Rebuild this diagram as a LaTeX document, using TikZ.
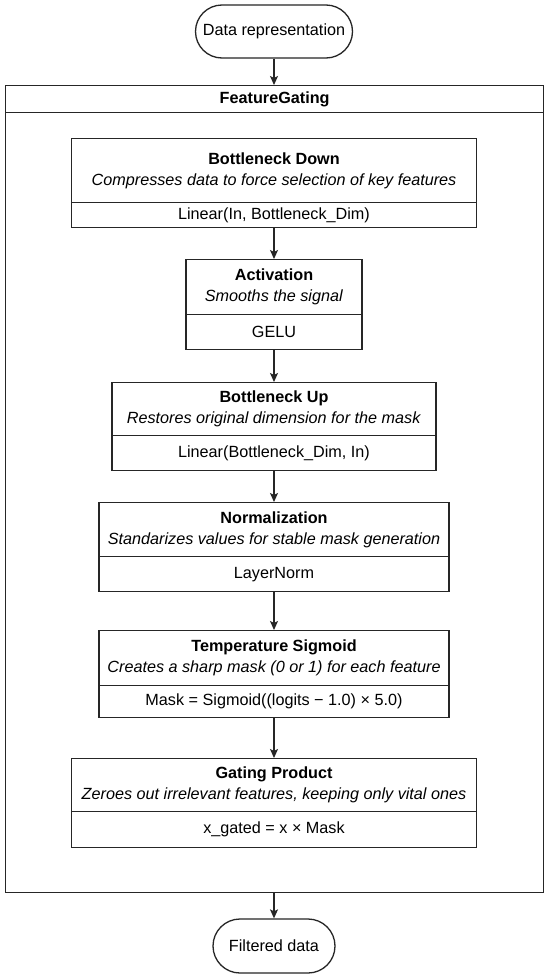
\documentclass[tikz,border=0pt]{standalone}
\usepackage{fontspec}
\setmainfont{Liberation Sans}
\usetikzlibrary{arrows.meta,shapes.misc}
\begin{document}
\begin{tikzpicture}[x=1pt,y=-1pt,
  every node/.style={font=\fontsize{16.2}{21}\selectfont, inner sep=0pt},
  ln/.style={line width=1.3pt, draw=black!85},
  term/.style={ln, rounded rectangle, minimum height=53pt},
  part/.style={ln, rectangle, anchor=north, align=center},
  arr/.style={line width=1.3pt, draw=black!85, -{Stealth[length=9pt,width=8pt,inset=2pt]}}
]
\useasboundingbox[fill=white] (0,0) rectangle (550,980);

% terminals
\node[term, minimum width=157pt] (dr) at (274,31.5) {Data representation};
\node[term, minimum width=122pt, minimum height=54pt] (fd) at (274,946) {Filtered data};

% container
\node[ln, anchor=north west, minimum width=538pt, minimum height=807pt] (fg) at (5,85) {};
\node[ln, anchor=north west, minimum width=538pt, minimum height=27pt] (fgh) at (5,85) {\textbf{FeatureGating}};

% box 1
\node[part, minimum width=405pt, minimum height=64pt] (b1t) at (274,138)
  {\textbf{Bottleneck Down}\\\textit{Compresses data to force selection of key features}};
\node[part, minimum width=405pt, minimum height=25pt] (b1b) at (274,202) {Linear(In, Bottleneck\_Dim)};

% box 2
\node[part, minimum width=176pt, minimum height=55pt] (b2t) at (274,259)
  {\textbf{Activation}\\\textit{Smooths the signal}};
\node[part, minimum width=176pt, minimum height=35pt] (b2b) at (274,314) {GELU};

% box 3
\node[part, minimum width=324pt, minimum height=53pt] (b3t) at (274,382)
  {\textbf{Bottleneck Up}\\\textit{Restores original dimension for the mask}};
\node[part, minimum width=324pt, minimum height=35pt] (b3b) at (274,435) {Linear(Bottleneck\_Dim, In)};

% box 4
\node[part, minimum width=350pt, minimum height=54pt] (b4t) at (274,502)
  {\textbf{Normalization}\\\textit{Standarizes values for stable mask generation}};
\node[part, minimum width=350pt, minimum height=35pt] (b4b) at (274,556) {LayerNorm};

% box 5
\node[part, minimum width=350pt, minimum height=55pt] (b5t) at (274,630)
  {\textbf{Temperature Sigmoid}\\\textit{Creates a sharp mask (0 or 1) for each feature}};
\node[part, minimum width=350pt, minimum height=32pt] (b5b) at (274,685) {Mask = Sigmoid((logits − 1.0) × 5.0)};

% box 6
\node[part, minimum width=405pt, minimum height=53pt] (b6t) at (274,758)
  {\textbf{Gating Product}\\\textit{Zeroes out irrelevant features, keeping only vital ones}};
\node[part, minimum width=405pt, minimum height=36pt] (b6b) at (274,811) {x\_gated = x × Mask};

% connectors
\draw[arr] (dr.south) -- (fgh.north -| dr.south);
\draw[arr] (b1b.south) -- (b2t.north);
\draw[arr] (b2b.south) -- (b3t.north);
\draw[arr] (b3b.south) -- (b4t.north);
\draw[arr] (b4b.south) -- (b5t.north);
\draw[arr] (b5b.south) -- (b6t.north);
\draw[arr] (fg.south -| fd.north) -- (fd.north);
\end{tikzpicture}
\end{document}
